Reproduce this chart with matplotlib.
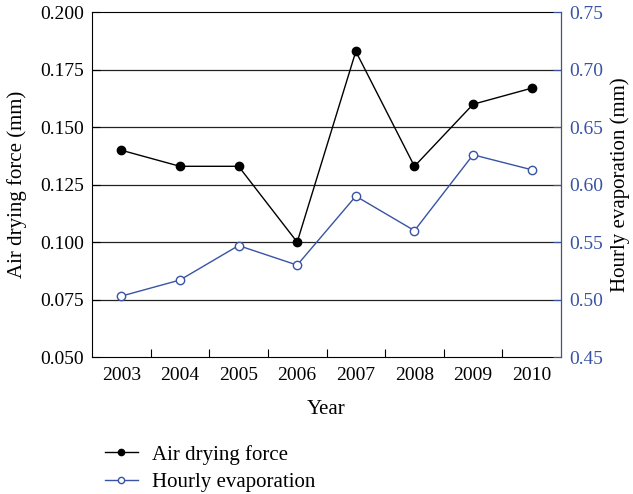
import matplotlib.pyplot as plt

years = ["2003", "2004", "2005", "2006", "2007", "2008", "2009", "2010"]
air_drying = [0.140, 0.133, 0.133, 0.100, 0.183, 0.133, 0.160, 0.167]
hourly_evap = [0.503, 0.517, 0.547, 0.530, 0.590, 0.560, 0.626, 0.613]

left_ticks = [0.050, 0.075, 0.100, 0.125, 0.150, 0.175, 0.200]
right_ticks = [0.45, 0.50, 0.55, 0.60, 0.65, 0.70, 0.75]

blue = "#3853a4"

plt.rcParams["font.family"] = ["Liberation Serif", "DejaVu Serif"]
plt.rcParams["font.size"] = 14

fig = plt.figure(figsize=(6.33, 4.94), dpi=100)
ax = fig.add_axes([0.1453, 0.2773, 0.7410, 0.6977])
ax2 = ax.twinx()

x = list(range(len(years)))

for t in left_ticks[1:-1]:
    ax.axhline(t, color="#222222", lw=0.9, zorder=0)

l1, = ax.plot(x, air_drying, color="black", lw=1.0, marker="o", ms=6,
              mfc="black", mec="black", label="Air drying force")
l2, = ax2.plot(x, hourly_evap, color=blue, lw=1.0, marker="o", ms=6,
               mfc="white", mec=blue, mew=1.0, label="Hourly evaporation")

ax.set_xlim(-0.5, 7.5)
ax.set_ylim(0.050, 0.200)
ax2.set_ylim(0.45, 0.75)

ax.set_yticks(left_ticks)
ax.set_yticklabels([f"{v:.3f}" for v in left_ticks])
ax2.set_yticks(right_ticks)
ax2.set_yticklabels([f"{v:.2f}" for v in right_ticks])

ax.set_xticks([i + 0.5 for i in range(len(years) - 1)])
ax.set_xticklabels([])
ax.set_xticks(x, minor=True)
ax.set_xticklabels(years, minor=True)
ax.tick_params(axis="x", which="minor", length=0, pad=7)
ax.tick_params(axis="x", which="major", direction="in", length=6)
ax.tick_params(axis="y", direction="in", length=6, pad=6)
ax2.tick_params(axis="y", direction="in", length=6, colors=blue, pad=6)
ax2.spines["right"].set_color(blue)
for s in ["left", "top", "bottom"]:
    ax2.spines[s].set_visible(False)

ax.set_xlabel("Year", labelpad=12, fontsize=15)
ax.set_ylabel("Air drying force (mm)", labelpad=9, fontsize=15)
ax2.set_ylabel("Hourly evaporation (mm)", rotation=90, labelpad=5, fontsize=15)

fig.legend(handles=[l1, l2], loc="center left", bbox_to_anchor=(0.152, 0.052),
           frameon=False, handlelength=1.6, handletextpad=0.7, labelspacing=0.38,
           markerscale=0.75, fontsize=15, borderaxespad=0)

fig.savefig("out.png", dpi=100)
